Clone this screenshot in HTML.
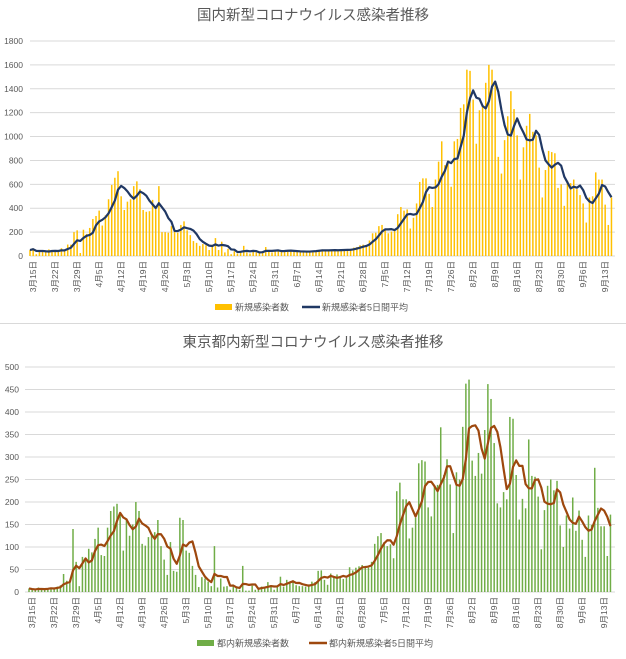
<!DOCTYPE html>
<html><head><meta charset="utf-8">
<style>
html,body{margin:0;padding:0;background:#fff;}
svg{display:block;font-family:"Liberation Sans","Noto Sans CJK JP",sans-serif;}
</style></head>
<body>
<svg id="c" width="626" height="659" viewBox="0 0 626 659"></svg>
<script>
const startDay = [3, 14];
const xTickLabels = ["3月15日","3月22日","3月29日","4月5日","4月12日","4月19日","4月26日","5月3日","5月10日","5月17日","5月24日","5月31日","6月7日","6月14日","6月21日","6月28日","7月5日","7月12日","7月19日","7月26日","8月2日","8月9日","8月16日","8月23日","8月30日","9月6日","9月13日"];
const nationalTicks = [0,200,400,600,800,1000,1200,1400,1600,1800];
const tokyoTicks = [0,50,100,150,200,250,300,350,400,450,500];
const nationalCases = [50,64,15,39,44,36,55,35,43,40,65,50,96,95,200,215,25,220,
185,235,310,335,380,255,340,475,595,655,710,500,385,455,475,585,625,560,385,370,375,470,410,585,200,200,195,250,205,195,
260,290,215,175,125,110,85,100,90,50,95,150,50,120,30,60,15,40,20,40,85,30,20,40,30,30,40,75,40,30,40,
50,45,45,40,45,40,35,35,35,40,40,45,45,50,55,40,45,50,55,50,45,50,55,60,70,75,90,95,90,130,
190,195,250,260,220,190,205,210,350,410,380,390,230,320,440,620,650,650,520,410,640,790,960,760,800,580,960,980,1240,1270,1560,
1550,1310,940,1220,1260,1450,1600,1560,1430,830,690,970,1170,1380,1230,1010,640,910,1090,1190,1040,1010,740,490,720,880,870,860,570,600,420,
630,610,640,560,510,440,280,490,500,700,640,640,430,260,490];
const tokyoCases = [8,5,4,10,6,7,8,10,8,12,15,40,25,20,140,67,13,78,75,96,88,118,143,82,80,143,180,190,196,170,
92,160,125,150,200,180,107,103,122,125,133,160,102,72,38,111,47,45,165,160,92,87,58,38,11,33,30,23,13,102,
10,30,12,13,5,12,10,5,58,3,3,14,5,10,12,8,22,14,5,13,34,12,27,20,26,15,13,13,12,17,23,22,47,
48,27,16,41,35,39,35,29,31,55,48,54,57,60,58,54,
67,107,124,131,111,102,106,75,224,243,206,206,119,143,165,286,293,290,188,168,237,238,366,260,295,239,131,266,250,367,463,
472,292,258,309,263,360,462,429,331,197,188,222,206,389,385,260,161,207,186,339,258,256,212,95,182,236,250,226,247,148,100,
170,141,210,136,181,116,78,170,149,276,187,146,146,80,172];

const NS='http://www.w3.org/2000/svg';
const svg=document.getElementById('c');
function mk(tag,attrs,parent){const e=document.createElementNS(NS,tag);for(const k in attrs)e.setAttribute(k,attrs[k]);(parent||svg).appendChild(e);return e;}
function movAvg(a){return a.map((v,i)=>{let s=0,n=0;for(let j=Math.max(0,i-4);j<=i;j++){s+=a[j];n++;}return s/n;});}

function chart(o){
  const g=mk('g',{});
  
  
  const xS=i=>o.x0+i*o.dx;
  const yS=v=>o.yb-(v/o.ymax)*(o.yb-o.yt);
  const t=mk('text',{x:313,y:o.titleY,'text-anchor':'middle','font-size':'14.5',fill:'#595959'},g);
  t.textContent=o.title;
  
  
  o.ticks.forEach(v=>{
    const y=yS(v);
    const l=mk('line',{x1:o.gx0,x2:615,y1:y,y2:y,stroke:'#d9d9d9','stroke-width':1},g);
    
    
    const tx=mk('text',{x:o.ylx,y:y+3,'text-anchor':'end','font-size':'8.5',fill:'#595959'},g);
    tx.textContent=v;
    
    
  });
  o.data.forEach((v,i)=>{
    const h=o.yb-yS(v);
    const r=mk('rect',{x:xS(i)-0.75,y:yS(v),width:1.5,height:h,fill:o.barColor},g);
    
    
  });
  const avg=movAvg(o.data);
  const p=mk('polyline',{points:avg.map((v,i)=>xS(i).toFixed(2)+','+yS(v).toFixed(2)).join(' '),fill:'none',stroke:o.lineColor,'stroke-width':2.2,'stroke-linejoin':'round'},g);
  
  
  xTickLabels.forEach((s,k)=>{
    const x=xS(1+k*7);
    const tx=mk('text',{x:0,y:0,transform:`translate(${x+3},${o.yb+5}) rotate(-90)`,'text-anchor':'end','font-size':'8.5',fill:'#595959'},g);
    tx.textContent=s;
    
    
  });
  const lr=mk('rect',{x:o.lg[0],y:o.lgY-3,width:17,height:6,fill:o.barColor},g);
  
  
  const lt=mk('text',{x:o.lg[0]+20,y:o.lgY+3.5,'font-size':'9',fill:'#595959'},g);
  lt.textContent=o.lgText[0];
  
  
  const ll=mk('line',{x1:o.lg[1],x2:o.lg[1]+18,y1:o.lgY,y2:o.lgY,stroke:o.lineColor,'stroke-width':2.5},g);
  
  
  const lt2=mk('text',{x:o.lg[1]+20,y:o.lgY+3.5,'font-size':'9',fill:'#595959'},g);
  lt2.textContent=o.lgText[1];
  
  
}
chart({name:'national-chart',title:'国内新型コロナウイルス感染者推移',titleY:20,data:nationalCases,ticks:nationalTicks,ymax:1800,yt:41,yb:256,x0:30,dx:3.143,gx0:30,ylx:23,barColor:'#FFC000',lineColor:'#203864',lg:[215,302],lgY:307,lgText:['新規感染者数','新規感染者5日間平均']});
const sep=mk('line',{x1:0,x2:626,y1:323.5,y2:323.5,stroke:'#d9d9d9','stroke-width':1});


chart({name:'tokyo-chart',title:'東京都内新型コロナウイルス感染者推移',titleY:347,data:tokyoCases,ticks:tokyoTicks,ymax:500,yt:367,yb:592,x0:29,dx:3.143,gx0:25,ylx:19,barColor:'#70AD47',lineColor:'#9E480E',lg:[197,309],lgY:643,lgText:['都内新規感染者数','都内新規感染者5日間平均']});
</script>
</body></html>
